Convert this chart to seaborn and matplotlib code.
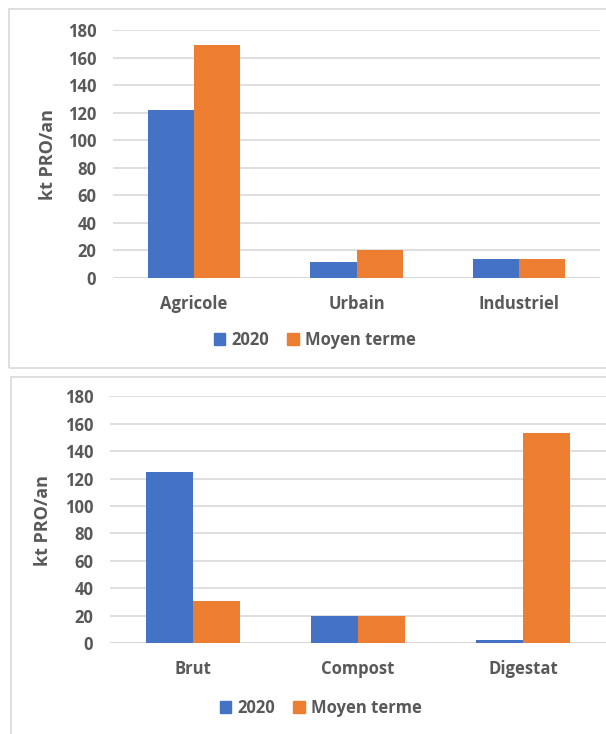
import matplotlib
matplotlib.use("Agg")
import matplotlib.pyplot as plt
import matplotlib.patches as mpatches
import seaborn as sns
import pandas as pd

# ---- data ----
series_names = ["2020", "Moyen terme"]

top_categories = ["Agricole", "Urbain", "Industriel"]
top_2020 = [122, 11.5, 14]
top_moyen = [169, 20, 14]

bottom_categories = ["Brut", "Compost", "Digestat"]
bottom_2020 = [125, 20, 2]
bottom_moyen = [31, 20, 153]

y_ticks = [0, 20, 40, 60, 80, 100, 120, 140, 160, 180]
y_label = "kt PRO/an"

colors = ["#4472C4", "#ED7D31"]
grey_text = "#595959"
grid_col = "#D9D9D9"

sns.set_theme(style="white")
plt.rcParams["font.family"] = ["Open Sans", "DejaVu Sans"]

W, H = 606, 734
fig = plt.figure(figsize=(W / 100, H / 100), dpi=100)
FS = 12


def long_df(cats, s1, s2):
    rows = []
    for c, v in zip(cats, s1):
        rows.append({"cat": c, "serie": series_names[0], "val": v})
    for c, v in zip(cats, s2):
        rows.append({"cat": c, "serie": series_names[1], "val": v})
    return pd.DataFrame(rows)


def px_axes(left, right, y0, y180):
    return fig.add_axes([left / W, (H - y0) / H, (right - left) / W, (y0 - y180) / H])


def draw(ax, cats, s1, s2, label_x, label_y, leg_x, leg_y):
    df = long_df(cats, s1, s2)
    sns.barplot(data=df, x="cat", y="val", hue="serie", order=cats,
                hue_order=series_names, palette=colors, width=0.57, gap=0,
                saturation=1, linewidth=0, ax=ax)
    ax.set_xlim(-0.5, len(cats) - 0.5)
    ax.set_ylim(0, 180)
    ax.set_yticks(y_ticks)
    ax.yaxis.grid(True, color=grid_col, linewidth=1.2)
    ax.set_axisbelow(True)
    for s in ax.spines.values():
        s.set_visible(False)
    ax.axhline(0, color=grid_col, linewidth=1.4, zorder=0.5)
    ax.tick_params(axis="both", length=0, labelsize=FS, labelcolor=grey_text)
    ax.tick_params(axis="y", pad=12)
    ax.tick_params(axis="x", pad=12)
    for t in ax.get_xticklabels() + ax.get_yticklabels():
        t.set_fontweight("bold")
    ax.set_xlabel("")
    ax.set_ylabel("")
    fig.text(label_x / W, 1 - label_y / H, y_label, rotation=90, ha="center",
             va="center", fontsize=13, fontweight="bold", color=grey_text)
    handles = [mpatches.Patch(color=c) for c in colors]
    if ax.get_legend() is not None:
        ax.get_legend().remove()
    fig.legend(handles, series_names, loc="center",
               bbox_to_anchor=(leg_x / W, 1 - leg_y / H), ncol=2, frameon=False,
               handlelength=0.7, handleheight=0.7, handletextpad=0.35,
               columnspacing=1.1, prop={"size": FS, "weight": "bold"},
               labelcolor=grey_text)


# panel borders
fig.add_artist(mpatches.Rectangle((9 / W, 1 - 368 / H), (W + 30) / W, (368 - 9) / H,
                                  transform=fig.transFigure, fill=False,
                                  edgecolor="#D9D9D9", linewidth=1.2))
fig.add_artist(mpatches.Rectangle((11 / W, 1 - (H + 10) / H), (W + 30) / W, (H + 10 - 377) / H,
                                  transform=fig.transFigure, fill=False,
                                  edgecolor="#D9D9D9", linewidth=1.2))

ax1 = px_axes(113, 600, 278, 30.3)
draw(ax1, top_categories, top_2020, top_moyen, 48, 154, 314.5, 340)

ax2 = px_axes(110, 606, 643, 396.3)
draw(ax2, bottom_categories, bottom_2020, bottom_moyen, 43, 520, 320.5, 708)

fig.savefig("out.png", dpi=100)
